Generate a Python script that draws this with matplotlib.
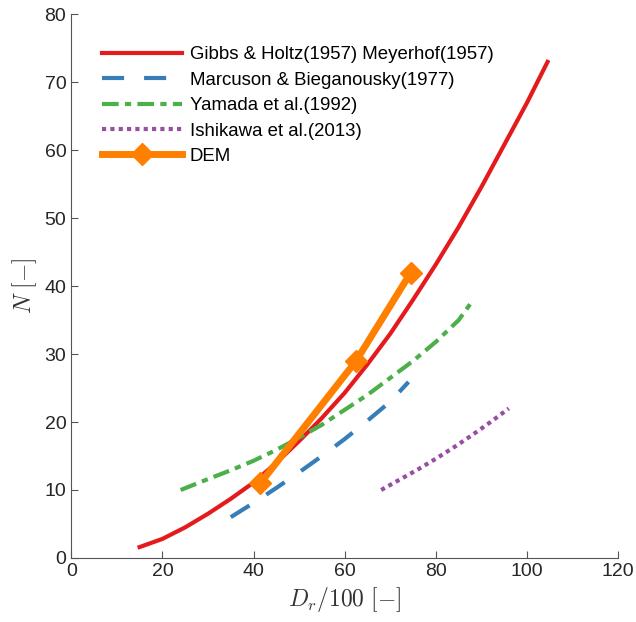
import matplotlib.pyplot as plt

plt.rcParams['font.family'] = ['Liberation Sans', 'DejaVu Sans']
plt.rcParams['mathtext.fontset'] = 'cm'

# Gibbs & Holtz / Meyerhof curve
gh_dr = [15, 20, 25, 30, 35, 40, 45, 50, 55, 60, 65, 70, 75, 80, 85, 90, 95, 100, 104.5]
gh_n = [1.6, 2.8, 4.5, 6.5, 8.7, 11.1, 14.0, 17.2, 20.6, 24.3, 28.5, 33.0, 38.0, 43.2, 48.7, 54.6, 60.8, 67.0, 73.0]

# Marcuson & Bieganousky
mb_dr = [35, 40, 45, 50, 55, 60, 65, 70, 74]
mb_n = [6.0, 8.1, 10.3, 12.6, 15.0, 17.5, 20.2, 23.0, 25.9]

# Yamada et al.
ya_dr = [24, 30, 35, 40, 45, 50, 55, 60, 65, 70, 75, 80, 85, 88]
ya_n = [10.0, 11.6, 12.9, 14.3, 15.9, 17.7, 19.6, 21.8, 24.0, 26.5, 29.0, 31.8, 35.0, 37.8]

# Ishikawa et al.
is_dr = [68, 72, 76, 80, 84, 88, 92, 96]
is_n = [10.0, 11.5, 13.0, 14.6, 16.3, 18.1, 20.0, 22.0]

# DEM results
dem_dr = [41.5, 62.5, 74.5]
dem_n = [11.0, 29.0, 42.0]

fig = plt.figure(figsize=(6.36, 6.22), dpi=100)
ax = fig.add_axes([0.112, 0.103, 0.86, 0.874])

ax.plot(gh_dr, gh_n, color='#e41a1c', lw=3, label='Gibbs & Holtz(1957) Meyerhof(1957)')
ax.plot(mb_dr, mb_n, color='#377eb8', lw=3, dashes=(5.3, 4.8), label='Marcuson & Bieganousky(1977)')
ax.plot(ya_dr, ya_n, color='#4daf4a', lw=3, dashes=(4, 1.5, 1.5, 1.5), label='Yamada et al.(1992)')
ax.plot(is_dr, is_n, color='#984ea3', lw=3, dashes=(1, 1), label='Ishikawa et al.(2013)')
ax.plot(dem_dr, dem_n, color='#ff7f00', lw=5, marker='D', markersize=11, label='DEM')

ax.set_xlim(0, 120)
ax.set_ylim(0, 80)
ax.set_xticks(range(0, 121, 20))
ax.set_yticks(range(0, 81, 10))
ax.spines['top'].set_visible(False)
ax.spines['right'].set_visible(False)
for s in ('left', 'bottom'):
    ax.spines[s].set_color('#555555')
ax.tick_params(direction='in', length=5, labelsize=14, colors='#555555', labelcolor='#262626')

ax.set_xlabel(r'$D_r/100\ [-]$', fontsize=17, color='#333333')
ax.set_ylabel(r'$N\ [-]$', fontsize=17, color='#333333')

ax.legend(loc='upper left', bbox_to_anchor=(0.025, 0.972), frameon=False, fontsize=13.4,
          handlelength=4.3, handletextpad=0.43, labelspacing=0.45)

fig.savefig('out.png', dpi=100)
